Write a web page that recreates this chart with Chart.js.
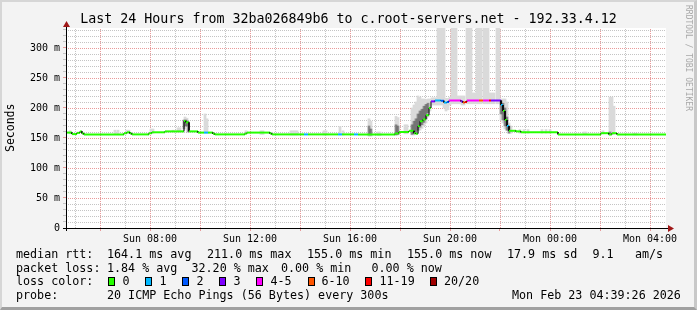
<!DOCTYPE html>
<html>
<head>
<meta charset="utf-8">
<script src="https://cdn.jsdelivr.net/npm/chart.js@4"></script>
<style>
  html, body { margin: 0; padding: 0; }
  body {
    width: 697px; height: 310px; position: relative; overflow: hidden;
    background: #f3f3f3; color: #000;
    font-family: "DejaVu Sans Mono", monospace;
  }
  #frame {
    position: absolute; left: 0; top: 0; width: 697px; height: 310px;
    box-sizing: border-box; pointer-events: none;
    border-style: solid; border-width: 2px 3px 3px 2px;
    border-color: #d6d6d6 #c8c8c8 #a0a0a0 #d6d6d6;
  }
  canvas { position: absolute; left: 0; top: 0; }
  .t { position: absolute; white-space: pre; font-size: 11.7px; line-height: 14px; }
  .box { position: absolute; width: 5px; height: 7px; border: 1px solid #000; top: 277px; }
  #title { position: absolute; left: 0; width: 697px; top: 11px; text-align: center; font-size: 13.3px; line-height: 16px; white-space: pre; }
  #ylab { position: absolute; left: 3px; top: 104px; height: 48px; font-size: 11.5px; line-height: 14px; writing-mode: vertical-rl; transform: rotate(180deg); }
  #rrd { position: absolute; left: 683px; top: 5px; font-size: 8px; line-height: 10px; color: #a8a8a8; writing-mode: vertical-rl; white-space: pre; }
</style>
</head>
<body>
<canvas id="chart" width="697" height="310"></canvas>
<div id="title">Last 24 Hours from 32ba026849b6 to c.root-servers.net - 192.33.4.12</div>
<div id="ylab">Seconds</div>
<div id="rrd">RRDTOOL / TOBI OETIKER</div>
<div id="legend"></div>
<div id="frame"></div>
<script>
// time axis in hours since Sunday 00:00 (window 04:38 Sun -> 04:38 Mon)
const timeMin = 4.64;
const timeMax = 28.64;
const hourTicks = [5, 6, 7, 8, 9, 10, 11, 12, 13, 14, 15, 16, 17, 18, 19, 20, 21, 22, 23, 24, 25, 26, 27, 28];
const msTicks = [0, 10, 20, 30, 40, 50, 60, 70, 80, 90, 100, 110, 120, 130, 140, 150, 160, 170, 180, 190, 200, 210, 220, 230, 240, 250, 260, 270, 280, 290, 300, 310, 320, 330];

// median rtt (ms), step starts
const medTimes = [4.64, 4.88, 5.08, 5.20, 5.28, 5.36, 6.96, 7.08, 7.20, 7.28, 7.96, 8.08, 8.60, 9.36, 9.44, 9.56, 9.92, 10.16, 10.32, 10.52, 10.60, 11.80, 11.88, 12.80, 12.88, 14.16, 14.32, 15.52, 15.68, 16.16, 16.32, 17.80, 17.96, 18.36, 18.56, 18.64, 18.72, 18.80, 18.92, 19.04, 19.16, 19.24, 19.40, 19.64, 19.76, 19.88, 19.96, 20.28, 20.44, 20.52, 20.60, 20.68, 21.16, 21.32, 21.56, 21.64, 22.04, 22.12, 22.20, 22.28, 22.36, 22.64, 22.84, 24.32, 26.04, 26.36, 26.48, 26.68, 28.64];
const medValues = [159, 156.5, 158.5, 161, 157.5, 156, 158, 159.5, 157.5, 156, 158, 159.5, 161, 178.5, 176, 161, 159, 159, 159, 157, 156, 157.5, 159, 157.5, 156, 156, 156, 156, 156, 156, 156, 157.5, 160, 162, 158, 157, 170, 178, 181, 188, 200, 211, 212.5, 212, 209, 210, 212.5, 212.5, 211, 209, 210, 212.5, 212.5, 212.5, 212.5, 212.5, 205, 195, 180, 170, 162, 161, 159.5, 156, 158, 156, 158, 156, 156];
// lost pings out of 20
const medLoss = [0, 0, 0, 0, 0, 0, 0, 0, 0, 0, 0, 0, 0, 0, 0, 0, 0, 1, 0, 0, 0, 0, 0, 0, 0, 1, 0, 1, 0, 1, 0, 0, 0, 0, 0, 0, 0, 0, 0, 0, 0, 3, 1, 2, 1, 2, 4, 5, 3, 7, 12, 4, 8, 5, 12, 3, 1, 0, 0, 1, 0, 0, 0, 0, 0, 0, 0, 0, 0];

// light smoke (ping spread per sample)
const smokeTimes = [4.80, 6.60, 6.72, 7.08, 7.16, 8.04, 8.12, 8.92, 9.12, 9.20, 9.40, 9.48, 10.20, 10.28, 11.84, 12.44, 12.52, 13.64, 13.72, 13.80, 13.88, 14.96, 15.04, 15.60, 15.72, 16.76, 16.84, 17.12, 17.20, 17.84, 17.92, 18.20, 18.28, 18.48, 18.56, 18.64, 18.72, 18.80, 18.88, 18.96, 19.04, 19.12, 19.20, 19.28, 19.36, 19.44, 19.52, 19.60, 19.68, 19.76, 19.84, 19.92, 20.00, 20.08, 20.16, 20.24, 20.32, 20.40, 20.48, 20.56, 20.68, 20.76, 20.84, 20.92, 21.00, 21.08, 21.16, 21.24, 21.36, 21.44, 21.52, 21.60, 21.68, 21.76, 21.88, 21.96, 22.04, 22.12, 22.20, 22.28, 22.36, 22.44, 22.80, 22.96, 23.12, 23.68, 23.84, 24.00, 25.36, 25.44, 26.12, 26.40, 26.48, 26.56, 27.36, 27.44];
const smokeLow = [157, 157, 157, 158, 158, 158, 158, 160, 160, 160, 170, 170, 158, 158, 157, 156, 156, 155, 155, 155, 155, 155, 155, 155, 155, 153, 153, 154, 154, 155, 155, 157, 157, 155, 155, 156, 160, 163, 166, 170, 175, 185, 195, 205, 205, 205, 205, 205, 205, 200, 195, 197, 205, 207, 207, 207, 207, 207, 205, 205, 207, 207, 207, 207, 207, 207, 207, 207, 207, 207, 207, 207, 207, 207, 207, 207, 180, 175, 165, 162, 158, 158, 158, 158, 158, 158, 158, 158, 156, 156, 157, 156, 156, 156, 155, 155];
const smokeHigh = [162, 163, 163, 163, 163, 165, 165, 163, 167, 167, 185, 183, 190, 182, 162, 162, 162, 162, 162, 162, 162, 162, 162, 169, 162, 182, 178, 160, 160, 186, 184, 172, 172, 200, 205, 210, 220, 218, 215, 215, 214, 215, 215, 217, 217, 217, 340, 340, 340, 340, 216, 216, 218, 340, 340, 340, 220, 220, 220, 220, 340, 340, 340, 225, 225, 340, 340, 340, 340, 340, 340, 225, 225, 225, 340, 340, 215, 215, 215, 210, 175, 170, 164, 164, 164, 164, 164, 164, 160, 160, 162, 218, 218, 203, 158, 158];

// dense smoke close to the median
const darkTimes = [9.36, 9.44, 9.52, 16.76, 16.84, 17.84, 17.92, 18.48, 18.56, 18.64, 18.72, 18.80, 18.88, 18.96, 19.04, 19.12, 22.04, 22.12, 22.20, 22.28, 22.36, 26.40];
const darkLow = [165, 170, 160, 155, 155, 155, 156, 156, 157, 158, 163, 168, 172, 176, 182, 192, 190, 180, 170, 163, 158, 155];
const darkHigh = [180, 180, 178, 170, 165, 172, 170, 172, 178, 182, 190, 195, 198, 203, 206, 208, 212, 208, 200, 185, 170, 160];

const lossLabels = ["0", "1", "2", "3", "4-5", "6-10", "11-19", "20/20"];
const lossColors = ["#26ff00", "#00b8ff", "#0059ff", "#7e00ff", "#ff00ff", "#ff5500", "#ff0000", "#a00000"];

function lossColor(n) {
  if (n <= 3) return lossColors[n];
  if (n <= 5) return lossColors[4];
  if (n <= 10) return lossColors[5];
  if (n < 20) return lossColors[6];
  return lossColors[7];
}

// horizontal step pieces of the median
const medianPts = [];
for (let i = 0; i < medTimes.length - 1; i++) {
  medianPts.push({ x: medTimes[i], y: medValues[i], loss: medLoss[i] });
  medianPts.push({ x: medTimes[i + 1], y: medValues[i], loss: medLoss[i] });
}

const MAJOR = "#e99a9a";
const MINOR = "#c4c4c4";
const tickFont = { family: "DejaVu Sans Mono", size: 10 };

// white plot area, dotted grid, axis lines and arrows
const framePlugin = {
  id: "frame",
  beforeDatasetsDraw(chart) {
    const { ctx, chartArea: a, scales } = chart;
    ctx.save();
    ctx.fillStyle = "#ffffff";
    ctx.fillRect(a.left, a.top, a.right - a.left, a.bottom - a.top);
    ctx.lineWidth = 1;
    ctx.setLineDash([1, 1]);
    hourTicks.forEach((h) => {
      const px = Math.round(scales.x.getPixelForValue(h)) + 0.5;
      ctx.strokeStyle = h % 2 === 0 ? MAJOR : MINOR;
      ctx.beginPath();
      ctx.moveTo(px, a.bottom);
      ctx.lineTo(px, a.top);
      ctx.stroke();
    });
    msTicks.forEach((v) => {
      if (v === 0) return;
      const py = Math.round(scales.y.getPixelForValue(v)) + 0.5;
      ctx.strokeStyle = v % 50 === 0 ? MAJOR : MINOR;
      ctx.beginPath();
      ctx.moveTo(a.left, py);
      ctx.lineTo(a.right, py);
      ctx.stroke();
    });
    ctx.restore();
  },
  afterDraw(chart) {
    const { ctx, chartArea: a } = chart;
    ctx.save();
    ctx.strokeStyle = "#000";
    ctx.lineWidth = 1;
    ctx.beginPath();
    ctx.moveTo(a.left - 3, a.bottom + 0.5);
    ctx.lineTo(a.right + 3, a.bottom + 0.5);
    ctx.moveTo(a.left + 0.5, a.bottom + 3);
    ctx.lineTo(a.left + 0.5, a.top - 3);
    ctx.stroke();
    ctx.fillStyle = "#a01818";
    ctx.beginPath();
    ctx.moveTo(a.right + 2, a.bottom - 3);
    ctx.lineTo(a.right + 8, a.bottom + 0.5);
    ctx.lineTo(a.right + 2, a.bottom + 4);
    ctx.closePath();
    ctx.fill();
    ctx.beginPath();
    ctx.moveTo(a.left - 3, a.top - 1);
    ctx.lineTo(a.left + 0.5, a.top - 7);
    ctx.lineTo(a.left + 4, a.top - 1);
    ctx.closePath();
    ctx.fill();
    ctx.restore();
  },
};

function initChart() {
  const ctx = document.getElementById("chart").getContext("2d");
  new Chart(ctx, {
    type: "line",
    data: {
      datasets: [
        {
          type: "bar",
          data: smokeTimes.map((t, i) => ({ x: t, y: [smokeLow[i], smokeHigh[i]] })),
          backgroundColor: "#dadada",
          borderWidth: 0,
          barThickness: 2.1,
          grouped: false,
          order: 4,
        },
        {
          type: "bar",
          data: darkTimes.map((t, i) => ({ x: t, y: [darkLow[i], darkHigh[i]] })),
          backgroundColor: "rgba(0, 0, 0, 0.38)",
          borderWidth: 0,
          barThickness: 2.1,
          grouped: false,
          order: 3,
        },
        {
          data: medianPts,
          pointRadius: 0,
          tension: 0,
          borderWidth: 2,
          borderColor: "#26ff00",
          segment: {
            borderColor: (c) => (c.p0.parsed.x === c.p1.parsed.x ? "#000" : lossColor(c.p0.raw.loss)),
            borderWidth: (c) => (c.p0.parsed.x === c.p1.parsed.x ? 1 : 2),
          },
          order: 1,
        },
      ],
    },
    options: {
      responsive: false,
      animation: false,
      layout: { padding: { left: 0, right: 31, top: 28, bottom: 62 } },
      plugins: { legend: { display: false }, tooltip: { enabled: false } },
      scales: {
        x: {
          type: "linear",
          min: timeMin,
          max: timeMax,
          offset: false,
          afterBuildTicks: (s) => { s.ticks = hourTicks.map((v) => ({ value: v })); },
          afterFit: (s) => { s.height = 20; },
          grid: {
            offset: false,
            drawOnChartArea: false,
            tickColor: (c) => (c.tick && c.tick.value % 2 === 0 ? MAJOR : "rgba(0,0,0,0)"),
            tickLength: 3,
          },
          border: { display: false },
          ticks: {
            autoSkip: false,
            maxRotation: 0,
            padding: 2,
            color: "#000",
            font: tickFont,
            callback: (v) => {
              if (v % 4 !== 0) return "";
              const h = v % 24;
              return (v < 24 ? "Sun " : "Mon ") + String(h).padStart(2, "0") + ":00";
            },
          },
        },
        y: {
          min: 0,
          max: 333.3,
          afterBuildTicks: (s) => { s.ticks = msTicks.map((v) => ({ value: v })); },
          afterFit: (s) => { s.width = 66; },
          grid: {
            drawOnChartArea: false,
            tickColor: (c) => (c.tick && c.tick.value % 50 === 0 ? MAJOR : MINOR),
            tickLength: 3,
          },
          border: { display: false },
          ticks: {
            autoSkip: false,
            padding: 3,
            color: "#000",
            font: tickFont,
            callback: (v) => (v === 0 ? "0" : v % 50 === 0 ? v + " m" : ""),
          },
        },
      },
    },
    plugins: [framePlugin],
  });
}

// legend rows below the graph
const legendRows = [
  { top: 246.5, items: [[16, "median rtt:"], [107, "164.1 ms avg"], [207, "211.0 ms max"], [307, "155.0 ms min"], [407, "155.0 ms now"], [507, "17.9 ms sd"], [592.5, "9.1"], [635, "am/s"]] },
  { top: 260.5, items: [[16, "packet loss:"], [107, "1.84 % avg"], [191.5, "32.20 % max"], [281, "0.00 % min"], [371.5, "0.00 % now"]] },
  { top: 274, items: [[16, "loss color:"]] },
  { top: 288, items: [[16, "probe:"], [107, "20 ICMP Echo Pings (56 Bytes) every 300s"], [512, "Mon Feb 23 04:39:26 2026"]] },
];
const lossBoxX = [108, 145, 182, 219, 256, 307.5, 365, 430];
const lossTextX = [122.5, 159.5, 196.5, 233.5, 270.5, 321.5, 379.5, 444];

function initLegend() {
  const legend = document.getElementById("legend");
  let html = "";
  legendRows.forEach((row) => {
    row.items.forEach(([x, txt]) => {
      html += `<div class="t" style="left:${x}px;top:${row.top}px">${txt}</div>`;
    });
  });
  lossLabels.forEach((lab, i) => {
    html += `<div class="box" style="left:${lossBoxX[i]}px;background:${lossColors[i]}"></div>`;
    html += `<div class="t" style="left:${lossTextX[i]}px;top:274px">${lab}</div>`;
  });
  legend.innerHTML = html;
}

initChart();
initLegend();
</script>
</body>
</html>
